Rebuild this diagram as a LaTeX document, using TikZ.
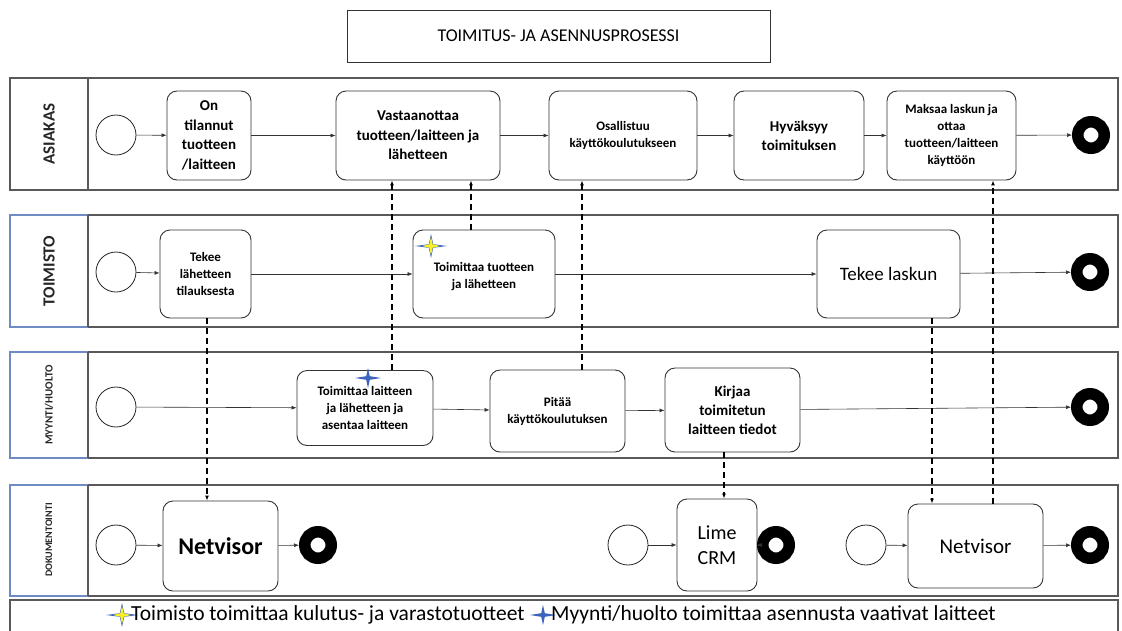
\documentclass[tikz,border=0pt]{standalone}
\usepackage{fontspec}
\setmainfont{Carlito}
\usetikzlibrary{arrows.meta,calc}
\definecolor{laneline}{gray}{0.35}
\definecolor{headblue}{RGB}{110,140,195}
\definecolor{starblue}{RGB}{60,100,190}
\definecolor{staryellow}{RGB}{250,240,40}
\begin{document}
\begin{tikzpicture}[x=1pt,y=-1pt,
  task/.style={draw=black!80, line width=0.9pt, rounded corners=10pt, fill=white,
    align=center, inner sep=2pt},
  startev/.style={circle, draw=black!85, line width=0.8pt, minimum size=40pt, inner sep=0pt},
  endev/.style={circle, draw=black, line width=11.5pt, minimum size=26.5pt, inner sep=0pt},
  flow/.style={-{Latex[length=5pt,width=4pt]}, line width=0.6pt, black!80},
  msg/.style={-{Latex[length=5pt,width=4pt]}, line width=1.1pt, black, dash pattern=on 6pt off 4pt},
  lanebox/.style={draw=laneline, line width=1.4pt},
  headtxt/.style={rotate=90, font=\bfseries, text=black!85},
  ystar/.pic={
    \fill[starblue] (-16,0) -- (-2.2,-1.8) -- (0,-12) -- (2.2,-1.8) -- (16,0) -- (2.2,1.8) -- (0,12) -- (-2.2,1.8) -- cycle;
    \fill[staryellow] (-9,0) -- (-1.7,-1.7) -- (0,-9) -- (1.7,-1.7) -- (9,0) -- (1.7,1.7) -- (0,9) -- (-1.7,1.7) -- cycle;},
  bstar/.pic={
    \fill[starblue] (-13,0) -- (-1.8,-1.8) -- (0,-10) -- (1.8,-1.8) -- (13,0) -- (1.8,1.8) -- (0,10) -- (-1.8,1.8) -- cycle;}
]
\useasboundingbox (0,0) rectangle (1122,630);
\fill[white] (0,0) rectangle (1122,630);

% title
\node[draw=black!80, line width=1pt, minimum width=423pt, minimum height=52pt,
  font=\fontsize{18}{22}\selectfont] (title) at (558.5,36) {TOIMITUS- JA ASENNUSPROSESSI};

% lanes
\draw[lanebox] (10,78) rectangle (1118,190);
\draw[lanebox] (88,78) -- (88,190);
\node[headtxt, font=\fontsize{17}{20}\selectfont\bfseries] (hA) at (49,134) {ASIAKAS};

\draw[lanebox] (88,215) rectangle (1118,327);
\draw[headblue, line width=1.2pt] (88,215) -- (10,215) -- (10,327) -- (88,327);
\draw[lanebox] (88,215) -- (88,327);
\node[headtxt, font=\fontsize{17}{20}\selectfont\bfseries] (hT) at (49,271) {TOIMISTO};

\draw[lanebox] (88,352) rectangle (1118,458);
\draw[headblue, line width=1.2pt] (88,352) -- (10,352) -- (10,458) -- (88,458);
\draw[lanebox] (88,352) -- (88,458);
\node[headtxt, font=\fontsize{11}{13}\selectfont\bfseries] (hM) at (49,405) {MYYNTI/HUOLTO};

\draw[lanebox] (88,485) rectangle (1118,596);
\draw[headblue, line width=1.2pt] (88,485) -- (10,485) -- (10,596) -- (88,596);
\draw[lanebox] (88,485) -- (88,596);
\node[headtxt, font=\fontsize{10}{12}\selectfont\bfseries] (hD) at (49,540) {DOKUMENTOINTI};

% legend box
\draw[lanebox] (10,600) rectangle (1118,640);

% ASIAKAS lane
\node[startev] (s1) at (116,135) {};
\node[task, minimum width=84pt, minimum height=89pt, font=\fontsize{15}{19.5}\selectfont\bfseries] (on) at (209,135.5) {On\\tilannut\\tuotteen\\/laitteen};
\node[task, minimum width=164pt, minimum height=89pt, font=\fontsize{15}{19.5}\selectfont\bfseries] (vast) at (418,135.5) {Vastaanottaa\\tuotteen/laitteen ja\\lähetteen};
\node[task, minimum width=148pt, minimum height=89pt, font=\fontsize{13}{17}\selectfont\bfseries] (osal) at (623,135.5) {Osallistuu\\käyttökoulutukseen};
\node[task, minimum width=130pt, minimum height=89pt, font=\fontsize{15}{19}\selectfont\bfseries] (hyv) at (799,135.5) {Hyväksyy\\toimituksen};
\node[task, minimum width=129pt, minimum height=89pt, font=\fontsize{13}{17}\selectfont\bfseries] (maks) at (951.5,135.5) {Maksaa laskun ja\\ottaa\\tuotteen/laitteen\\käyttöön};
\node[endev] (e1) at (1091,135) {};

\draw[flow] (s1) -- (on);
\draw[flow] (on) -- (vast);
\draw[flow] (vast) -- (osal);
\draw[flow] (osal) -- (hyv);
\draw[flow] (hyv) -- (maks);
\draw[flow] (maks) -- (e1);

% TOIMISTO lane
\node[startev] (s2) at (116,272) {};
\node[task, minimum width=91pt, minimum height=88pt, font=\fontsize{13}{17}\selectfont\bfseries] (tek) at (205.5,274) {Tekee\\lähetteen\\tilauksesta};
\node[task, minimum width=142pt, minimum height=88pt, font=\fontsize{13}{17}\selectfont\bfseries] (ttuo) at (484,274) {\\[-2pt]Toimittaa tuotteen\\ja lähetteen};
\node[task, minimum width=143pt, minimum height=88pt, font=\fontsize{19}{23}\selectfont] (lask) at (888.5,274) {Tekee laskun};
\node[endev] (e2) at (1090,272) {};
\pic at (431,246) {ystar};

\draw[flow] (s2) -- (tek);
\draw[flow] (tek) -- (ttuo);
\draw[flow] (ttuo) -- (lask);
\draw[flow] (lask) -- (e2);

% MYYNTI/HUOLTO lane
\node[startev] (s3) at (116,407) {};
\node[task, minimum width=136pt, minimum height=75pt, font=\fontsize{13}{17}\selectfont\bfseries] (tlait) at (365,408) {Toimittaa laitteen\\ja lähetteen ja\\asentaa laitteen};
\node[task, minimum width=135pt, minimum height=82pt, font=\fontsize{13}{17}\selectfont\bfseries] (pit) at (557.5,411) {Pitää\\käyttökoulutuksen};
\node[task, minimum width=135pt, minimum height=84pt, font=\fontsize{15}{19}\selectfont\bfseries] (kirj) at (732.5,410) {Kirjaa\\toimitetun\\laitteen tiedot};
\node[endev] (e3) at (1090,407) {};
\pic at (368,378) {bstar};

\draw[flow] (s3) -- (tlait);
\draw[flow] (tlait) -- (pit);
\draw[flow] (pit) -- (kirj);
\draw[flow] (kirj) -- (e3);

% DOKUMENTOINTI lane
\node[startev] (s4a) at (116,545) {};
\node[task, minimum width=115pt, minimum height=90pt, font=\fontsize{24}{28}\selectfont\bfseries] (netv1) at (220.5,546) {Netvisor};
\node[endev] (e4a) at (318,545) {};
\node[startev] (s4b) at (628,545) {};
\node[task, minimum width=80pt, minimum height=92pt, font=\fontsize{20}{25}\selectfont] (lime) at (717,545) {Lime\\CRM};
\node[endev] (e4b) at (776,545) {};
\node[startev] (s4c) at (866,545) {};
\node[task, minimum width=135pt, minimum height=84pt, font=\fontsize{21}{25}\selectfont] (netv2) at (975.5,546) {Netvisor};
\node[endev] (e4c) at (1090,545) {};

\draw[flow] (s4a) -- (netv1);
\draw[flow] (netv1) -- (e4a);
\draw[flow] (s4b) -- (lime);
\draw[flow] (lime) -- (e4b);
\draw[flow] (s4c) -- (netv2);
\draw[flow] (netv2) -- (e4c);

% message flows between lanes
\draw[msg] (tek.south -| 207,0) -- (netv1.north -| 207,0);
\draw[msg] (tlait.north -| 392,0) -- (vast.south -| 392,0);
\draw[msg] (ttuo.north -| 471,0) -- (vast.south -| 471,0);
\draw[msg] (pit.north -| 582,0) -- (osal.south -| 582,0);
\draw[msg] (kirj.south -| 724,0) -- (lime.north -| 724,0);
\draw[msg] (lask.south -| 932,0) -- (netv2.north -| 932,0);
\draw[msg] (netv2.north -| 993,0) -- (maks.south -| 993,0);

% legend
\pic at (122,615) {ystar};
\node[anchor=west, inner sep=0pt, font=\fontsize{21.5}{25}\selectfont] (leg1) at (131,615) {Toimisto toimittaa kulutus- ja varastotuotteet};
\pic at (543,615) {bstar};
\node[anchor=west, inner sep=0pt, font=\fontsize{21.5}{25}\selectfont] (leg2) at (551,615) {Myynti/huolto toimittaa asennusta vaativat laitteet};
\end{tikzpicture}
\end{document}
